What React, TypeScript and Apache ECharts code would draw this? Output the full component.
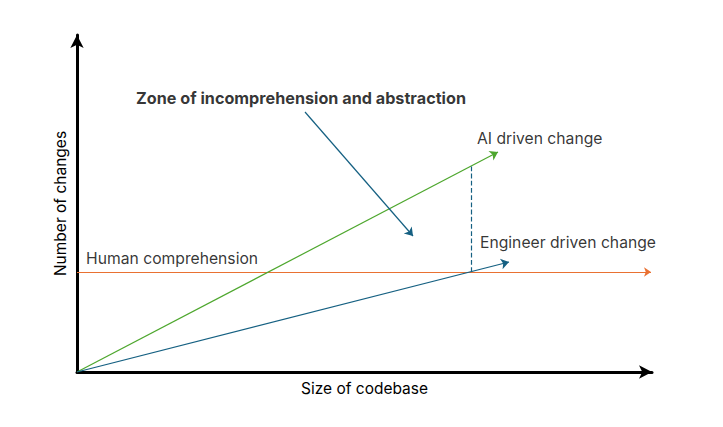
import React, { useEffect, useRef } from "react";
import * as echarts from "echarts";

// Diagram coordinates (abstract units along the two axes)
const xRange = [0, 575];
const yRange = [0, 337];

const aiLine = [[0, 0], [421, 220]];
const engineerLine = [[0, 0], [432, 110]];
const humanLine = [[0, 100], [574, 100]];
const gapLine = [[394, 100], [394, 206]];
const zoneArrow = [[228, 260], [336, 136]];

const labelTexts = [
  "Zone of incomprehension and abstraction",
  "AI driven change",
  "Engineer driven change",
  "Human comprehension",
];
const labelPoints = [[59, 274], [400, 234], [403, 130], [9, 114]];
const labelBold = [true, false, false, false];

const xTitle = "Size of codebase";
const yTitle = "Number of changes";

const GREEN = "#4EA72E";
const BLUE = "#156082";
const ORANGE = "#E97132";
const FONT = "Inter, 'Noto Sans', sans-serif";

export default function App() {
  const ref = useRef<HTMLDivElement>(null);
  useEffect(() => {
    const chart = echarts.init(ref.current!, null, { renderer: "svg" });
    const arrowLines = (coords: number[][], color: string, width: number, type: string, arrow: boolean, size: number) => ({
      type: "lines",
      coordinateSystem: "cartesian2d",
      symbol: arrow ? ["none", "arrow"] : ["none", "none"],
      symbolSize: size,
      silent: true,
      lineStyle: { color, width, type, opacity: 1, curveness: 0 },
      data: [{ coords }],
      z: 3,
    });
    chart.setOption({
      animation: false,
      backgroundColor: "#fff",
      grid: { left: 77, top: 35, width: 575, height: 337 },
      xAxis: {
        type: "value",
        min: xRange[0],
        max: xRange[1],
        name: xTitle,
        nameLocation: "middle",
        nameGap: 8,
        nameTextStyle: { color: "#000", fontSize: 15.5, fontFamily: FONT },
        axisLine: { show: true, symbol: ["none", "arrow"], symbolSize: [10, 13], lineStyle: { color: "#000", width: 3 } },
        axisTick: { show: false },
        axisLabel: { show: false },
        splitLine: { show: false },
      },
      yAxis: {
        type: "value",
        min: yRange[0],
        max: yRange[1],
        name: yTitle,
        nameLocation: "middle",
        nameGap: 9,
        nameTextStyle: { color: "#000", fontSize: 15.5, fontFamily: FONT },
        axisLine: { show: true, symbol: ["none", "arrow"], symbolSize: [10, 13], lineStyle: { color: "#000", width: 3 } },
        axisTick: { show: false },
        axisLabel: { show: false },
        splitLine: { show: false },
      },
      series: [
        arrowLines(humanLine, ORANGE, 1, "solid", true, 7),
        arrowLines(aiLine, GREEN, 1.2, "solid", true, 8),
        arrowLines(engineerLine, BLUE, 1.2, "solid", true, 8),
        arrowLines(gapLine, BLUE, 1.2, "dashed", false, 1),
        arrowLines(zoneArrow, BLUE, 1.2, "solid", true, 8),
        {
          type: "scatter",
          symbolSize: 0,
          silent: true,
          z: 5,
          data: labelPoints.map((p, i) => ({
            value: p,
            label: {
              show: true,
              formatter: labelTexts[i],
              position: "inside",
              align: "left",
              verticalAlign: "middle",
              color: "#000",
              fontSize: labelBold[i] ? 16.2 : 15.7,
              fontFamily: FONT,
              fontWeight: labelBold[i] ? "bold" : "normal",
            },
          })),
        },
      ],
    });
    return () => chart.dispose();
  }, []);
  return (
    <div
      ref={ref}
      style={{ position: "fixed", left: 0, top: 0, width: 723, height: 427, background: "#fff" }}
    />
  );
}
